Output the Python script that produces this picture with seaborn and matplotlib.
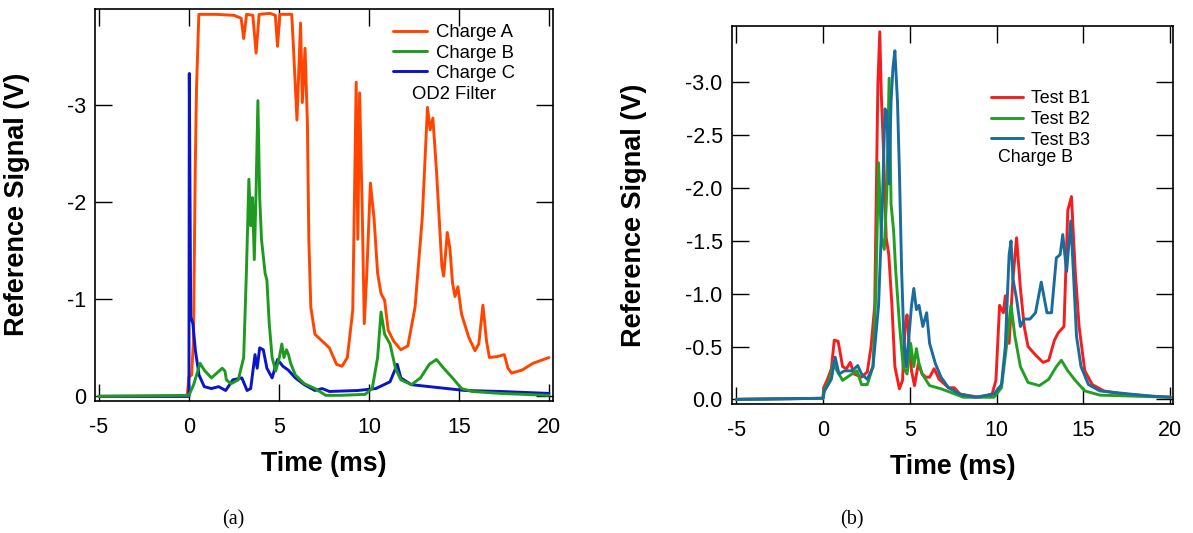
import numpy as np
import pandas as pd
import matplotlib
matplotlib.use("Agg")
import matplotlib.pyplot as plt
import seaborn as sns
from matplotlib.ticker import FormatStrFormatter

# ---- panel (a): Charge A/B/C, OD2 filter ----
t_a = [-5, -0.1, 0.0, 0.15, 0.25, 0.35, 0.42, 0.55, 1.5, 2.5, 2.9, 3.04, 3.2, 3.55, 3.73, 3.9, 4.5, 4.8,
       4.92, 5.05, 5.71, 5.8, 6.0, 6.2, 6.3, 6.45, 6.58, 6.66, 6.77, 7.0, 7.4, 7.8, 8.2, 8.5, 8.8, 9.1,
       9.29, 9.38, 9.48, 9.62, 9.74, 9.88, 10.08, 10.28, 10.48, 10.67, 10.87, 11.07, 11.37, 11.77, 12.16,
       12.56, 12.96, 13.25, 13.4, 13.55, 13.75, 14.05, 14.15, 14.35, 14.5, 14.64, 14.78, 14.94, 15.14,
       15.54, 15.89, 16.1, 16.33, 16.53, 16.69, 17.12, 17.52, 17.72, 17.92, 18.5, 19.1, 20.0]
v_a = [0, 0, -0.2, -0.22, -0.57, -2.33, -3.17, -3.94, -3.94, -3.93, -3.9, -3.69, -3.94, -3.93, -3.54,
       -3.94, -3.95, -3.93, -3.61, -3.94, -3.94, -3.62, -2.85, -3.85, -3.03, -3.59, -2.82, -1.62, -0.92,
       -0.64, -0.57, -0.5, -0.33, -0.31, -0.4, -0.89, -3.24, -1.62, -3.13, -1.98, -0.75, -1.27, -2.2,
       -1.84, -1.27, -1.06, -0.99, -0.68, -0.57, -0.48, -0.52, -0.92, -1.84, -2.98, -2.75, -2.87, -2.33,
       -1.34, -1.24, -1.69, -1.52, -1.17, -1.03, -1.13, -0.85, -0.61, -0.47, -0.54, -0.94, -0.57, -0.4,
       -0.41, -0.43, -0.29, -0.24, -0.27, -0.34, -0.4]

t_b = [-5, 0.0, 0.26, 0.62, 0.85, 1.25, 1.55, 1.85, 2.0, 2.08, 2.34, 2.74, 3.04, 3.19, 3.33, 3.43, 3.53,
       3.63, 3.73, 3.83, 3.93, 4.03, 4.23, 4.33, 4.46, 4.62, 4.82, 5.02, 5.16, 5.28, 5.42, 5.53, 5.65,
       5.91, 6.41, 7.0, 7.6, 8.4, 9.78, 10.18, 10.48, 10.67, 10.87, 11.17, 11.47, 11.77, 12.36, 12.86,
       13.35, 13.75, 14.15, 14.64, 15.14, 15.73, 17.3, 20.0]
v_b = [0, -0.01, -0.12, -0.34, -0.27, -0.19, -0.24, -0.29, -0.26, -0.17, -0.13, -0.17, -0.4, -1.27,
       -2.24, -1.76, -2.05, -1.41, -2.12, -3.05, -2.05, -1.62, -1.27, -1.2, -0.75, -0.4, -0.26, -0.4,
       -0.54, -0.4, -0.48, -0.43, -0.34, -0.22, -0.13, -0.08, -0.01, -0.01, -0.02, -0.08, -0.4, -0.87,
       -0.64, -0.54, -0.29, -0.17, -0.12, -0.19, -0.33, -0.38, -0.29, -0.19, -0.08, -0.05, -0.03, -0.01]

t_c = [-5, 0.0, 0.02, 0.1, 0.22, 0.36, 0.56, 0.85, 1.25, 1.65, 2.04, 2.44, 2.94, 3.23, 3.43, 3.67, 3.79,
       3.93, 4.13, 4.33, 4.62, 4.92, 5.22, 5.52, 5.91, 6.41, 7.0, 7.4, 7.8, 9.38, 10.38, 11.17, 11.57,
       11.77, 12.36, 13.35, 15.34, 17.3, 20.0]
v_c = [0, 0, -3.33, -0.82, -0.75, -0.47, -0.22, -0.1, -0.08, -0.1, -0.06, -0.17, -0.19, -0.06, -0.08,
       -0.43, -0.29, -0.5, -0.48, -0.29, -0.19, -0.38, -0.31, -0.27, -0.19, -0.12, -0.06, -0.08, -0.05,
       -0.06, -0.08, -0.15, -0.33, -0.19, -0.12, -0.1, -0.06, -0.05, -0.03]

# ---- panel (b): Charge B, tests B1-B3 ----
t_b1 = [-5, 0.0, 0.04, 0.26, 0.48, 0.65, 0.87, 1.13, 1.35, 1.57, 1.79, 2.22, 2.55, 2.77, 2.98, 3.16,
        3.27, 3.36, 3.49, 3.64, 3.79, 3.97, 4.14, 4.4, 4.58, 4.73, 4.84, 4.95, 5.1, 5.27, 5.49, 5.71,
        5.93, 6.14, 6.4, 6.69, 7.23, 7.56, 7.89, 8.98, 9.74, 9.96, 10.17, 10.39, 10.5, 10.72, 10.94,
        11.15, 11.37, 11.59, 11.81, 12.24, 12.68, 13.0, 13.33, 13.55, 13.88, 14.1, 14.31, 14.53, 14.75,
        15.08, 15.51, 16.17, 17.25, 18.78, 20.0]
v_b1 = [0, -0.01, -0.11, -0.19, -0.29, -0.56, -0.55, -0.31, -0.29, -0.35, -0.24, -0.21, -0.26, -0.5,
        -0.89, -2.98, -3.48, -2.88, -2.33, -1.53, -1.37, -0.89, -0.31, -0.1, -0.18, -0.69, -0.8, -0.56,
        -0.27, -0.13, -0.34, -0.24, -0.21, -0.21, -0.29, -0.19, -0.11, -0.11, -0.05, -0.02, -0.05, -0.18,
        -0.89, -0.82, -0.98, -0.53, -1.14, -1.53, -1.05, -0.69, -0.5, -0.42, -0.35, -0.37, -0.56, -0.63,
        -0.69, -1.79, -1.92, -1.21, -0.69, -0.27, -0.14, -0.08, -0.05, -0.03, -0.02]

t_b2 = [-5, 0.0, 0.04, 0.37, 0.59, 0.81, 1.13, 1.57, 1.96, 2.22, 2.55, 2.88, 3.05, 3.2, 3.36, 3.53,
        3.68, 3.81, 3.92, 4.07, 4.18, 4.4, 4.62, 4.84, 5.05, 5.23, 5.38, 5.53, 5.71, 6.14, 6.8, 7.45,
        8.1, 9.85, 10.28, 10.61, 10.83, 11.05, 11.37, 11.81, 12.46, 13.0, 13.44, 13.73, 14.1, 14.53,
        15.08, 15.95, 20.0]
v_b2 = [0, -0.01, -0.08, -0.18, -0.34, -0.27, -0.18, -0.23, -0.27, -0.14, -0.14, -0.31, -1.05, -2.24,
        -1.53, -1.42, -1.98, -3.04, -1.85, -1.59, -1.24, -0.72, -0.31, -0.24, -0.53, -0.31, -0.48, -0.34,
        -0.24, -0.13, -0.1, -0.06, -0.02, -0.02, -0.11, -0.56, -0.89, -0.6, -0.31, -0.16, -0.13, -0.19,
        -0.31, -0.37, -0.27, -0.18, -0.08, -0.04, -0.02]

t_b3 = [-5, 0.0, 0.09, 0.48, 0.7, 0.92, 1.24, 1.68, 2.0, 2.22, 2.55, 2.88, 3.2, 3.42, 3.57, 3.68, 3.81,
        3.92, 4.03, 4.14, 4.29, 4.4, 4.53, 4.66, 4.79, 4.95, 5.1, 5.23, 5.38, 5.53, 5.75, 5.97, 6.14,
        6.47, 6.8, 7.23, 7.89, 8.76, 9.85, 10.28, 10.5, 10.72, 10.83, 10.94, 11.15, 11.37, 11.59, 11.92,
        12.24, 12.57, 12.9, 13.16, 13.44, 13.66, 13.81, 14.03, 14.27, 14.42, 14.6, 14.86, 15.29, 15.95,
        17.69, 19.0, 20.0]
v_b3 = [0, -0.01, -0.08, -0.19, -0.4, -0.24, -0.27, -0.27, -0.32, -0.24, -0.19, -0.31, -0.89, -1.85,
        -2.75, -2.72, -2.04, -2.82, -3.14, -3.3, -2.82, -2.17, -1.21, -0.56, -0.31, -0.6, -0.89, -1.05,
        -0.85, -0.89, -0.69, -0.82, -0.53, -0.34, -0.21, -0.11, -0.05, -0.02, -0.05, -0.14, -0.5, -1.37,
        -1.5, -1.14, -0.95, -0.69, -0.76, -0.76, -0.82, -1.11, -0.82, -0.82, -1.34, -1.37, -1.56, -1.21,
        -1.69, -1.21, -0.6, -0.31, -0.14, -0.08, -0.05, -0.03, -0.02]

sns.set_style("ticks")
plt.rcParams['font.family'] = ['Liberation Sans', 'DejaVu Sans']
plt.rcParams['axes.unicode_minus'] = False
plt.rcParams['text.color'] = 'black'
plt.rcParams['axes.labelcolor'] = 'black'

fig = plt.figure(figsize=(11.93, 5.33), dpi=100)
ax1 = fig.add_axes([0.0796, 0.2477, 0.3839, 0.7363])
ax2 = fig.add_axes([0.6133, 0.2424, 0.3701, 0.7079])

lw = 2.1
sns.lineplot(x=t_a, y=v_a, ax=ax1, color='#FF4500', lw=lw, label='Charge A', estimator=None)
sns.lineplot(x=t_c, y=v_c, ax=ax1, color='#0A14C8', lw=lw, label='Charge C', estimator=None)
sns.lineplot(x=t_b, y=v_b, ax=ax1, color='#1E9A1E', lw=lw, label='Charge B', estimator=None)

sns.lineplot(x=t_b1, y=v_b1, ax=ax2, color='#F51E1E', lw=lw, label='Test B1', estimator=None)
sns.lineplot(x=t_b2, y=v_b2, ax=ax2, color='#22A022', lw=lw, label='Test B2', estimator=None)
sns.lineplot(x=t_b3, y=v_b3, ax=ax2, color='#1B6C9E', lw=lw, label='Test B3', estimator=None)

ax1.set_xlim(-5.22, 20.22)
ax1.set_ylim(0.048, -4.0)
ax1.set_yticks([0, -1, -2, -3])
ax1.yaxis.set_major_formatter(FormatStrFormatter('%d'))

ax2.set_xlim(-5.26, 20.17)
ax2.set_ylim(0.042, -3.53)
ax2.set_yticks([0, -0.5, -1.0, -1.5, -2.0, -2.5, -3.0])
ax2.yaxis.set_major_formatter(FormatStrFormatter('%.1f'))

for ax in (ax1, ax2):
    ax.set_xticks([-5, 0, 5, 10, 15, 20])
    ax.tick_params(direction='in', top=True, right=True, length=12, width=1.0,
                   labelsize=15.5, colors='black')
    ax.tick_params(axis='x', pad=11.5)
    ax.tick_params(axis='y', pad=6.5)
    for s in ax.spines.values():
        s.set_linewidth(1.2)
        s.set_color('black')
    ax.set_xlabel('Time (ms)', fontsize=19.3, fontweight='bold')
    ax.set_ylabel('Reference Signal (V)', fontsize=19.5, fontweight='bold')

ax1.xaxis.set_label_coords(0.5, -0.128)
ax1.yaxis.set_label_coords(-0.141, 0.5)
ax2.xaxis.set_label_coords(0.5, -0.1325)
ax2.yaxis.set_label_coords(-0.191, 0.5)

h1, l1 = ax1.get_legend_handles_labels()
order = [l1.index('Charge A'), l1.index('Charge B'), l1.index('Charge C')]
ax1.legend([h1[i] for i in order], [l1[i] for i in order],
           loc='upper left', frameon=False, fontsize=13.3, handlelength=1.84,
           handletextpad=0.49, labelspacing=0.18, borderpad=0, borderaxespad=0,
           bbox_to_anchor=(0.3294, 0.9544), bbox_transform=fig.transFigure)
ax2.legend(loc='upper left', frameon=False, fontsize=12.8, handlelength=1.81,
           handletextpad=0.47, labelspacing=0.2, borderpad=0, borderaxespad=0,
           bbox_to_anchor=(0.8305, 0.8303), bbox_transform=fig.transFigure)

fig.text(0.3453, 0.8236, 'OD2 Filter', fontsize=13.3, va='center', ha='left')
fig.text(0.8369, 0.7036, 'Charge B', fontsize=12.8, va='center', ha='left')

fig.text(0.1953, 0.0244, '(a)', fontsize=14.5, family='Liberation Serif', ha='center', va='center')
fig.text(0.7138, 0.0244, '(b)', fontsize=14.5, family='Liberation Serif', ha='center', va='center')

fig.savefig('out.png', dpi=100)
